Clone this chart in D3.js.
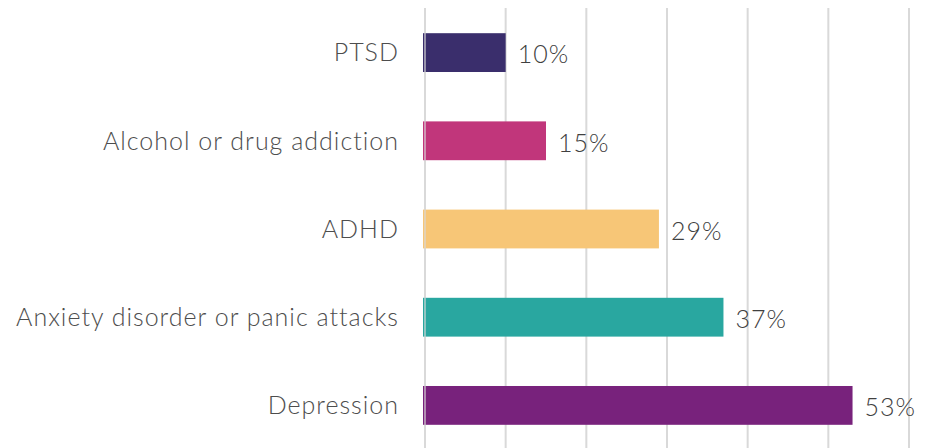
<!DOCTYPE html>
<html>
<head>
<meta charset="utf-8">
<script src="https://cdn.jsdelivr.net/npm/d3@7"></script>
<style>
  body { margin: 0; background: #fff; }
  text { font-family: Lato, "Open Sans", sans-serif; font-weight: 300; letter-spacing: 1px; }
</style>
</head>
<body>
<div id="chart"></div>
<script>
// chart data
const categories = ["PTSD", "Alcohol or drug addiction", "ADHD", "Anxiety disorder or panic attacks", "Depression"];
const values = [10, 15, 29, 37, 53];
const colors = ["#3a2e6c", "#c1367b", "#f7c677", "#29a7a0", "#78227c"];
const ticks = [0, 10, 20, 30, 40, 50, 60];

function main(){
  const W = 935, H = 448;

  const svg = d3.select("#chart")
    .append("svg")
    .attr("width", W)
    .attr("height", H);

  const x = d3.scaleLinear()
    .domain([0, 60])
    .range([425, 909]);

  const y = d3.scaleBand()
    .domain(categories)
    .range([8.5, 449.5])
    .paddingInner(0.56)
    .paddingOuter(0.28);

  // gridlines
  svg.append("g")
    .selectAll("line")
    .data(ticks)
    .join("line")
    .attr("x1", d => x(d))
    .attr("x2", d => x(d))
    .attr("y1", 8)
    .attr("y2", H)
    .attr("stroke", "#d9d9d9")
    .attr("stroke-width", 2);

  // bars
  svg.append("g")
    .selectAll("rect")
    .data(values)
    .join("rect")
    .attr("x", x(0) - 2)
    .attr("y", (d, i) => y(categories[i]))
    .attr("width", d => x(d) - x(0) + 2)
    .attr("height", y.bandwidth())
    .attr("fill", (d, i) => colors[i]);

  // zero line sits over the bars
  svg.append("line")
    .attr("x1", x(0)).attr("x2", x(0))
    .attr("y1", 8).attr("y2", H)
    .attr("stroke", "#d9d9d9")
    .attr("stroke-opacity", 0.6)
    .attr("stroke-width", 2);

  // category labels
  svg.append("g")
    .selectAll("text")
    .data(categories)
    .join("text")
    .attr("x", 399)
    .attr("y", d => y(d) + y.bandwidth() / 2)
    .attr("dy", "0.35em")
    .attr("text-anchor", "end")
    .attr("fill", "#4d4d4d")
    .style("font-size", "25px")
    .text(d => d);

  // value labels
  svg.append("g")
    .selectAll("text")
    .data(values)
    .join("text")
    .attr("x", d => x(d) + 12)
    .attr("y", (d, i) => y(categories[i]) + y.bandwidth() / 2 + 2)
    .attr("dy", "0.35em")
    .attr("fill", "#404040")
    .style("font-size", "25px")
    .text(d => d + "%");
}

main();
</script>
</body>
</html>
